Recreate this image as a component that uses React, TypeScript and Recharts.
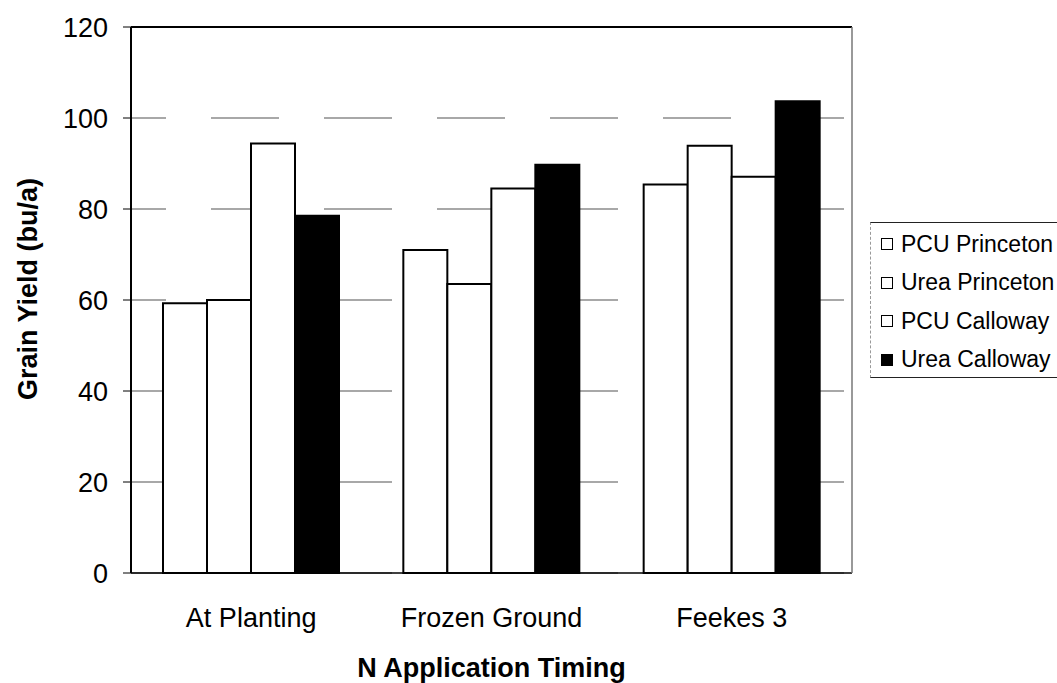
import React from 'react';
import { BarChart, Bar, XAxis, YAxis, CartesianGrid, Label } from 'recharts';

// values (bu/a)
const timings = ['At Planting', 'Frozen Ground', 'Feekes 3'];
const pcuPrinceton = [59.3, 71.0, 85.4];
const ureaPrinceton = [60.0, 63.5, 93.9];
const pcuCalloway = [94.4, 84.5, 87.1];
const ureaCalloway = [78.5, 89.7, 103.7];
const yTicks = [0, 20, 40, 60, 80, 100, 120];

const series = [
    { key: 'pcuPrinceton', name: 'PCU Princeton', fill: '#ffffff' },
    { key: 'ureaPrinceton', name: 'Urea Princeton', fill: '#ffffff' },
    { key: 'pcuCalloway', name: 'PCU Calloway', fill: '#ffffff' },
    { key: 'ureaCalloway', name: 'Urea Calloway', fill: '#000000' },
];

const data = timings.map((timing, i) => ({
    timing,
    pcuPrinceton: pcuPrinceton[i],
    ureaPrinceton: ureaPrinceton[i],
    pcuCalloway: pcuCalloway[i],
    ureaCalloway: ureaCalloway[i],
}));

const font = '"Liberation Sans", Arial, Helvetica, sans-serif';

function GridLine(props: any) {
    const { x1, x2, y1, y2 } = props;
    return (
        <line
            x1={x1}
            x2={x2}
            y1={y1}
            y2={y2}
            stroke="#8c8c8c"
            strokeWidth={1.5}
            strokeDasharray="68 45"
            strokeDashoffset={33}
        />
    );
}

function LegendBox() {
    return (
        <div
            style={{
                position: 'absolute',
                left: 870,
                top: 222,
                boxSizing: 'border-box',
                width: 187,
                height: 156,
                paddingTop: 2,
                borderTop: '1.5px solid #222',
                borderBottom: '1.5px solid #222',
                borderLeft: '1px dashed #999',
                fontFamily: font,
                fontSize: 23,
                color: '#000',
            }}
        >
            {series.map((s) => (
                <div
                    key={s.key}
                    style={{ display: 'flex', alignItems: 'center', height: 38.5, paddingLeft: 10 }}
                >
                    <span
                        style={{
                            display: 'inline-block',
                            boxSizing: 'border-box',
                            width: 12,
                            height: 12,
                            border: '1.5px solid #000',
                            background: s.fill,
                            marginRight: 8,
                        }}
                    />
                    <span style={{ whiteSpace: 'nowrap' }}>{s.name}</span>
                </div>
            ))}
        </div>
    );
}

export default function App() {
    return (
        <div style={{ position: 'absolute', left: 0, top: 0, width: 1057, height: 683, background: '#fff' }}>
            <BarChart
                width={1057}
                height={683}
                data={data}
                margin={{ top: 26, right: 204, left: 0, bottom: 0 }}
                barSize={44}
                barGap={0}
            >
                <CartesianGrid vertical={false} horizontal={(p: any) => <GridLine key={p.key} {...p} />} />
                {series.map((s) => (
                    <Bar
                        key={s.key}
                        dataKey={s.key}
                        name={s.name}
                        fill={s.fill}
                        stroke="#000"
                        strokeWidth={2}
                        isAnimationActive={false}
                    />
                ))}
                <XAxis
                    dataKey="timing"
                    height={110}
                    axisLine={{ stroke: '#000', strokeWidth: 1.5 }}
                    tickLine={false}
                    tickSize={0}
                    tickMargin={35}
                    tick={{ fill: '#000', fontSize: 27, fontFamily: font }}
                >
                    <Label
                        content={(p: any) => {
                            const vb = p.viewBox || {};
                            return (
                                <text
                                    x={vb.x + vb.width / 2}
                                    y={677}
                                    textAnchor="middle"
                                    fontFamily={font}
                                    fontSize={27}
                                    fontWeight="bold"
                                    fill="#000"
                                >
                                    N Application Timing
                                </text>
                            );
                        }}
                    />
                </XAxis>
                <XAxis
                    xAxisId="top"
                    dataKey="timing"
                    orientation="top"
                    height={1}
                    tick={false}
                    tickLine={false}
                    axisLine={{ stroke: '#000', strokeWidth: 2 }}
                />
                <YAxis
                    width={131}
                    domain={[0, 120]}
                    ticks={yTicks}
                    interval={0}
                    axisLine={{ stroke: '#000', strokeWidth: 2 }}
                    tickLine={{ stroke: '#000', strokeWidth: 1 }}
                    tickSize={8}
                    tickMargin={15}
                    tick={{ fill: '#000', fontSize: 27, fontFamily: font }}
                >
                    <Label
                        content={(p: any) => {
                            const vb = p.viewBox || {};
                            const cy = vb.y + vb.height / 2 - 11;
                            return (
                                <text
                                    x={28}
                                    y={cy}
                                    transform={`rotate(-90, 28, ${cy})`}
                                    textAnchor="middle"
                                    dominantBaseline="central"
                                    fontFamily={font}
                                    fontSize={27}
                                    fontWeight="bold"
                                    fill="#000"
                                >
                                    Grain Yield (bu/a)
                                </text>
                            );
                        }}
                    />
                </YAxis>
                <YAxis
                    yAxisId="right"
                    orientation="right"
                    width={1}
                    domain={[0, 120]}
                    tick={false}
                    tickLine={false}
                    axisLine={{ stroke: '#777', strokeWidth: 1.5 }}
                />
            </BarChart>
            <LegendBox />
        </div>
    );
}
